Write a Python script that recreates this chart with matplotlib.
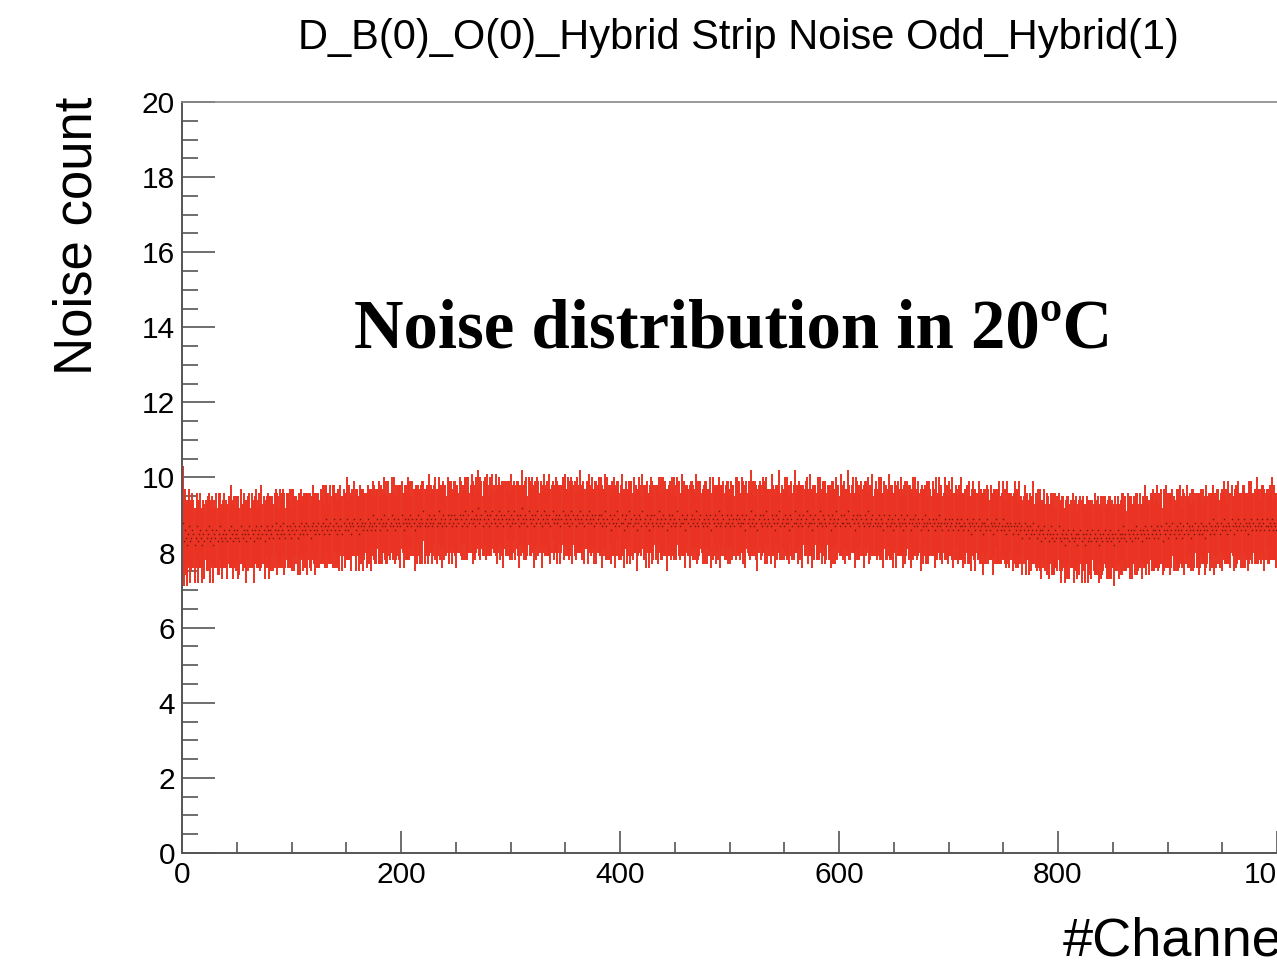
import numpy as np
import matplotlib
matplotlib.use("Agg")
import matplotlib.pyplot as plt
from matplotlib.ticker import MultipleLocator

# ---------------- data (noise per strip, 8 CBC chips x 127 strips) ----------------
noise_cbc0 = [8.8, 8.3, 8.6, 8.4, 8.2, 8.5, 8.7, 8.3, 8.4, 8.6,
              8.5, 8.2, 8.4, 8.7, 8.3, 8.5, 8.6, 8.4, 8.2, 8.5,
              8.3, 8.6, 8.4, 8.5, 8.7, 8.3, 8.4, 8.6, 8.2, 8.5,
              8.4, 8.6, 8.3, 8.5, 8.7, 8.4, 8.3, 8.5, 8.6, 8.4,
              8.5, 8.3, 8.6, 8.4, 8.7, 8.5, 8.3, 8.6, 8.4, 8.5,
              8.6, 8.4, 8.3, 8.7, 8.5, 8.4, 8.6, 8.5, 8.3, 8.6,
              8.5, 8.7, 8.4, 8.6, 8.5, 8.3, 8.6, 8.7, 8.4, 8.5,
              8.6, 8.4, 8.7, 8.5, 8.6, 8.3, 8.5, 8.7, 8.6, 8.4,
              8.6, 8.5, 8.7, 8.4, 8.6, 8.8, 8.5, 8.6, 8.4, 8.7,
              8.5, 8.6, 8.8, 8.5, 8.4, 8.7, 8.6, 8.5, 8.7, 8.4,
              8.6, 8.8, 8.5, 8.7, 8.6, 8.4, 8.7, 8.5, 8.8, 8.6,
              8.5, 8.7, 8.6, 8.8, 8.5, 8.7, 8.6, 8.4, 8.7, 8.8,
              8.6, 8.5, 8.7, 8.6, 8.8, 8.5, 8.7]
err_cbc0 = [1.5, 1.2, 1.1, 1.0, 1.1, 0.9, 1.0, 1.1, 0.9, 1.0,
            0.9, 1.0, 0.8, 0.9, 1.1, 0.9, 1.0, 0.8, 1.0, 0.9,
            1.0, 0.8, 0.9, 1.0, 0.9, 1.1, 0.8, 0.9, 1.0, 0.9,
            0.8, 1.0, 0.9, 1.1, 0.9, 0.8, 1.0, 0.9, 1.0, 0.8,
            0.9, 1.0, 0.9, 0.8, 1.1, 0.9, 1.0, 0.9, 0.8, 1.0,
            0.9, 1.1, 0.9, 1.0, 0.8, 0.9, 1.0, 0.9, 1.1, 0.8,
            1.0, 0.9, 0.8, 1.0, 0.9, 1.1, 0.9, 1.0, 0.8, 0.9,
            1.0, 0.9, 1.1, 0.8, 0.9, 1.0, 0.9, 0.8, 1.0, 1.1,
            0.9, 1.0, 0.8, 0.9, 1.0, 0.9, 1.1, 0.9, 0.8, 1.0,
            0.9, 1.0, 0.9, 1.1, 0.8, 0.9, 1.0, 0.9, 1.0, 0.8,
            1.1, 0.9, 1.0, 0.8, 0.9, 1.0, 0.9, 1.1, 0.9, 0.8,
            1.0, 0.9, 1.0, 0.8, 1.1, 0.9, 1.0, 0.9, 0.8, 1.0,
            0.9, 1.1, 0.9, 1.0, 0.8, 0.9, 1.0]

noise_cbc1 = [8.6, 8.8, 8.5, 8.7, 8.9, 8.6, 8.7, 8.5, 8.8, 8.6,
              8.7, 8.9, 8.6, 8.8, 8.5, 8.7, 8.6, 8.9, 8.7, 8.5,
              8.8, 8.6, 8.7, 8.9, 8.6, 8.8, 8.7, 8.5, 8.8, 8.7,
              8.9, 8.6, 8.8, 8.7, 8.5, 8.9, 8.7, 8.8, 8.6, 8.7,
              8.8, 8.6, 8.9, 8.7, 8.8, 8.6, 8.7, 9.0, 8.8, 8.6,
              8.7, 8.9, 8.8, 8.6, 8.9, 8.7, 8.8, 9.0, 8.7, 8.8,
              8.6, 8.9, 8.7, 8.8, 9.0, 8.7, 8.9, 8.6, 8.8, 8.7,
              8.9, 8.8, 8.7, 9.0, 8.8, 8.6, 8.9, 8.8, 8.7, 8.9,
              8.8, 9.0, 8.7, 8.9, 8.8, 8.6, 8.9, 8.7, 9.0, 8.8,
              8.7, 8.9, 8.8, 9.1, 8.7, 8.8, 8.9, 8.7, 9.0, 8.8,
              8.9, 8.7, 8.8, 9.0, 8.9, 8.7, 8.8, 9.1, 8.8, 8.9,
              8.7, 9.0, 8.8, 8.9, 8.7, 9.0, 8.8, 8.9, 9.0, 8.7,
              8.8, 9.0, 8.9, 8.7, 8.9, 8.8, 9.0]
err_cbc1 = [0.9, 1.0, 0.8, 1.1, 0.9, 1.0, 0.9, 0.8, 1.0, 0.9,
            1.1, 0.9, 1.0, 0.8, 0.9, 1.0, 1.1, 0.9, 0.8, 1.0,
            0.9, 1.0, 0.9, 1.1, 0.8, 1.0, 0.9, 1.0, 0.9, 0.8,
            1.0, 1.1, 0.9, 0.8, 1.0, 0.9, 1.0, 0.9, 1.1, 0.9,
            0.8, 1.0, 0.9, 1.0, 0.9, 1.1, 0.8, 0.9, 1.0, 0.9,
            1.0, 0.8, 1.1, 0.9, 0.9, 1.0, 0.8, 1.0, 0.9, 1.1,
            0.9, 1.0, 0.9, 0.8, 1.0, 0.9, 1.1, 0.9, 1.0, 0.8,
            0.9, 1.0, 1.1, 0.9, 0.8, 1.0, 0.9, 1.0, 0.9, 1.1,
            1.0, 0.9, 0.8, 1.0, 0.9, 1.1, 0.9, 1.0, 0.8, 0.9,
            1.0, 0.9, 1.1, 0.8, 1.0, 0.9, 0.9, 1.0, 1.1, 0.8,
            0.9, 1.0, 0.9, 0.8, 1.1, 1.0, 0.9, 0.9, 1.0, 0.8,
            1.1, 0.9, 1.0, 0.9, 0.8, 1.0, 1.1, 0.9, 0.9, 1.0,
            0.8, 0.9, 1.0, 1.1, 0.9, 0.8, 1.0]

noise_cbc2 = [8.9, 8.7, 9.0, 8.8, 9.1, 8.9, 8.7, 9.0, 8.8, 8.9,
              9.1, 8.8, 8.9, 8.7, 9.0, 8.9, 9.2, 8.8, 8.9, 9.0,
              8.7, 8.9, 9.1, 8.8, 9.0, 8.9, 8.7, 9.0, 8.8, 9.1,
              8.9, 8.8, 9.0, 8.7, 8.9, 9.1, 8.8, 9.0, 8.9, 8.7,
              9.0, 8.9, 8.8, 9.1, 8.9, 8.7, 9.0, 8.8, 8.9, 9.1,
              8.8, 9.0, 8.9, 8.7, 9.0, 8.8, 9.2, 8.9, 8.8, 9.0,
              8.9, 8.7, 9.1, 8.9, 8.8, 9.0, 8.9, 8.7, 9.0, 8.8,
              9.1, 8.9, 8.8, 9.0, 8.7, 8.9, 9.1, 8.8, 9.0, 8.9,
              8.8, 9.0, 8.7, 8.9, 9.1, 8.8, 8.9, 9.0, 8.8, 8.9,
              9.0, 8.7, 8.9, 9.1, 8.8, 9.0, 8.9, 8.8, 9.0, 8.7,
              8.9, 9.1, 8.8, 9.0, 8.9, 8.7, 9.0, 8.9, 8.8, 9.1,
              8.9, 8.8, 9.0, 8.7, 8.9, 9.0, 8.8, 9.1, 8.9, 8.8,
              9.0, 8.9, 8.7, 9.0, 8.8, 8.9, 9.0]
err_cbc2 = [1.0, 0.9, 0.8, 1.0, 0.9, 1.1, 0.9, 1.0, 0.8, 0.9,
            1.0, 1.1, 0.9, 0.9, 1.0, 0.8, 1.0, 0.9, 1.1, 0.9,
            0.8, 1.0, 0.9, 1.0, 1.1, 0.9, 0.8, 1.0, 0.9, 1.0,
            0.9, 0.8, 1.1, 1.0, 0.9, 0.9, 1.0, 0.8, 1.0, 1.1,
            0.9, 1.0, 0.9, 0.8, 1.0, 0.9, 1.1, 1.0, 0.9, 0.8,
            1.0, 0.9, 1.0, 1.1, 0.8, 0.9, 1.0, 0.9, 1.0, 0.9,
            1.1, 0.8, 0.9, 1.0, 0.9, 1.0, 0.8, 1.1, 0.9, 1.0,
            0.9, 1.0, 0.8, 0.9, 1.1, 0.9, 1.0, 0.9, 0.8, 1.0,
            0.9, 1.1, 1.0, 0.9, 0.8, 1.0, 0.9, 1.0, 1.1, 0.9,
            0.8, 1.0, 0.9, 0.9, 1.0, 1.1, 0.8, 0.9, 1.0, 0.9,
            1.0, 0.9, 1.1, 0.8, 1.0, 0.9, 1.0, 0.9, 0.8, 1.1,
            0.9, 1.0, 0.9, 1.0, 0.8, 0.9, 1.1, 1.0, 0.9, 0.9,
            1.0, 0.8, 1.0, 0.9, 1.1, 0.9, 1.0]

noise_cbc3 = [8.8, 9.0, 8.7, 8.9, 8.8, 9.1, 8.7, 8.9, 8.8, 9.0,
              8.6, 8.9, 8.8, 9.0, 8.7, 8.8, 9.1, 8.9, 8.7, 8.8,
              9.0, 8.8, 8.6, 8.9, 9.0, 8.7, 8.8, 9.1, 8.8, 8.9,
              8.7, 9.0, 8.8, 8.9, 8.6, 8.8, 9.0, 8.9, 8.7, 9.1,
              8.8, 8.9, 8.7, 9.0, 8.8, 8.6, 8.9, 9.0, 8.8, 8.7,
              9.0, 8.8, 8.9, 8.7, 9.1, 8.8, 8.9, 8.7, 9.0, 8.8,
              8.9, 8.6, 8.8, 9.0, 8.9, 8.7, 9.0, 8.8, 8.9, 8.7,
              8.8, 9.1, 8.9, 8.7, 8.8, 9.0, 8.8, 8.9, 8.6, 8.9,
              9.0, 8.8, 8.7, 8.9, 9.0, 8.8, 8.9, 8.7, 9.1, 8.8,
              8.7, 8.9, 9.0, 8.8, 8.7, 8.9, 8.8, 9.0, 8.7, 8.9,
              8.8, 9.0, 8.6, 8.9, 8.8, 9.0, 8.7, 8.9, 8.8, 9.1,
              8.7, 8.8, 9.0, 8.9, 8.7, 8.8, 9.0, 8.8, 8.9, 8.7,
              9.0, 8.8, 8.9, 8.7, 8.9, 9.0, 8.8]
err_cbc3 = [0.9, 1.0, 1.1, 0.8, 0.9, 1.0, 0.9, 1.1, 1.0, 0.8,
            0.9, 1.0, 0.9, 1.0, 1.1, 0.9, 0.8, 1.0, 0.9, 1.0,
            1.1, 0.9, 1.0, 0.8, 0.9, 1.0, 0.9, 0.8, 1.1, 1.0,
            0.9, 1.0, 0.8, 0.9, 1.1, 0.9, 1.0, 0.9, 0.8, 1.0,
            1.0, 0.9, 1.1, 0.9, 0.8, 1.0, 0.9, 1.0, 1.1, 0.9,
            0.8, 1.0, 0.9, 1.0, 0.9, 0.8, 1.1, 0.9, 1.0, 0.9,
            1.0, 1.1, 0.9, 0.8, 1.0, 0.9, 1.0, 0.9, 1.1, 0.8,
            1.0, 0.9, 1.0, 0.9, 0.8, 1.1, 0.9, 1.0, 1.0, 0.9,
            0.8, 0.9, 1.1, 1.0, 0.9, 1.0, 0.8, 0.9, 1.0, 1.1,
            0.9, 1.0, 0.9, 0.8, 1.0, 0.9, 1.1, 0.9, 1.0, 0.8,
            0.9, 1.0, 1.0, 1.1, 0.9, 0.8, 1.0, 0.9, 1.0, 0.9,
            1.1, 0.9, 0.8, 1.0, 0.9, 1.0, 0.9, 1.1, 0.8, 1.0,
            0.9, 1.0, 0.9, 0.8, 1.1, 1.0, 0.9]

noise_cbc4 = [8.9, 8.7, 8.8, 9.0, 8.8, 8.9, 8.6, 9.0, 8.8, 8.9,
              8.7, 9.1, 8.8, 8.9, 8.7, 9.0, 8.8, 8.6, 8.9, 9.0,
              8.8, 8.7, 9.0, 8.9, 8.8, 9.1, 8.7, 8.9, 8.8, 8.7,
              9.0, 8.9, 8.8, 8.6, 9.0, 8.8, 8.9, 9.1, 8.7, 8.8,
              8.9, 8.7, 9.0, 8.8, 8.9, 8.8, 8.6, 9.0, 8.9, 8.7,
              8.8, 9.1, 8.8, 8.9, 8.7, 9.0, 8.8, 8.9, 8.7, 9.0,
              8.8, 8.9, 9.1, 8.7, 8.8, 9.0, 8.8, 8.6, 8.9, 8.8,
              9.0, 8.7, 8.9, 8.8, 9.1, 8.8, 8.7, 9.0, 8.9, 8.8,
              8.7, 9.0, 8.8, 8.9, 8.6, 9.0, 8.8, 8.9, 8.7, 9.1,
              8.8, 8.9, 8.7, 9.0, 8.8, 8.8, 9.0, 8.7, 8.9, 8.8,
              9.1, 8.8, 8.7, 8.9, 9.0, 8.8, 8.6, 8.9, 9.0, 8.8,
              8.7, 9.0, 8.9, 8.8, 8.7, 9.0, 8.9, 8.8, 9.1, 8.7,
              8.8, 8.9, 9.0, 8.7, 8.8, 8.9, 8.7]
err_cbc4 = [1.0, 0.9, 0.8, 1.0, 1.1, 0.9, 1.0, 0.9, 0.8, 1.0,
            0.9, 1.1, 0.9, 1.0, 0.8, 0.9, 1.0, 1.1, 0.9, 0.9,
            1.0, 0.8, 1.0, 0.9, 1.1, 0.9, 1.0, 0.8, 0.9, 1.0,
            1.1, 0.9, 0.9, 1.0, 0.8, 1.0, 0.9, 1.1, 0.9, 1.0,
            0.8, 0.9, 1.0, 0.9, 1.1, 1.0, 0.9, 0.8, 1.0, 0.9,
            1.0, 1.1, 0.8, 0.9, 1.0, 0.9, 1.0, 0.9, 1.1, 0.8,
            0.9, 1.0, 0.9, 1.0, 0.8, 1.1, 0.9, 1.0, 0.9, 1.0,
            0.8, 0.9, 1.1, 1.0, 0.9, 0.8, 1.0, 0.9, 1.0, 1.1,
            0.9, 0.8, 1.0, 0.9, 1.0, 0.9, 1.1, 0.8, 1.0, 0.9,
            1.0, 0.9, 0.8, 1.1, 0.9, 1.0, 0.9, 1.0, 0.8, 0.9,
            1.1, 1.0, 0.9, 0.9, 1.0, 0.8, 1.0, 1.1, 0.9, 1.0,
            0.9, 0.8, 1.0, 0.9, 1.1, 0.9, 1.0, 0.8, 0.9, 1.0,
            1.0, 0.9, 1.1, 0.8, 0.9, 1.0, 0.9]

noise_cbc5 = [8.8, 9.0, 8.7, 8.9, 8.8, 8.6, 9.0, 8.8, 8.7, 8.9,
              9.0, 8.7, 8.8, 8.9, 8.6, 8.8, 9.0, 8.7, 8.9, 8.8,
              8.7, 9.0, 8.8, 8.6, 8.9, 8.8, 8.7, 9.0, 8.8, 8.9,
              8.6, 8.8, 8.9, 8.7, 9.0, 8.8, 8.7, 8.9, 8.8, 8.6,
              8.9, 8.7, 8.8, 9.0, 8.7, 8.8, 8.6, 8.9, 8.8, 8.7,
              8.9, 8.8, 8.6, 8.9, 8.7, 8.8, 9.0, 8.7, 8.8, 8.6,
              8.8, 8.9, 8.7, 8.8, 8.6, 8.9, 8.7, 8.8, 8.9, 8.6,
              8.7, 8.8, 8.9, 8.6, 8.8, 8.7, 8.9, 8.7, 8.6, 8.8,
              8.7, 8.9, 8.6, 8.8, 8.7, 8.5, 8.8, 8.9, 8.7, 8.6,
              8.8, 8.7, 8.9, 8.6, 8.7, 8.8, 8.5, 8.8, 8.7, 8.6,
              8.9, 8.7, 8.6, 8.8, 8.7, 8.5, 8.8, 8.7, 8.9, 8.6,
              8.7, 8.8, 8.6, 8.7, 8.9, 8.6, 8.7, 8.5, 8.8, 8.7,
              8.6, 8.8, 8.7, 8.5, 8.7, 8.8, 8.6]
err_cbc5 = [0.9, 1.0, 0.9, 1.1, 0.8, 1.0, 0.9, 1.0, 0.9, 0.8,
            1.1, 0.9, 1.0, 0.9, 1.0, 0.8, 0.9, 1.1, 1.0, 0.9,
            0.8, 1.0, 0.9, 1.0, 0.9, 1.1, 0.8, 0.9, 1.0, 0.9,
            1.0, 0.9, 1.1, 0.8, 1.0, 0.9, 0.9, 1.0, 0.8, 1.1,
            0.9, 1.0, 0.9, 0.8, 1.0, 1.1, 0.9, 1.0, 0.9, 0.8,
            1.0, 0.9, 1.0, 1.1, 0.9, 0.8, 1.0, 0.9, 1.0, 0.9,
            0.8, 1.1, 0.9, 1.0, 0.9, 1.0, 0.8, 0.9, 1.1, 1.0,
            0.9, 1.0, 0.8, 0.9, 1.0, 0.9, 1.1, 0.9, 1.0, 0.8,
            1.0, 0.9, 0.9, 1.1, 0.8, 1.0, 0.9, 1.0, 0.9, 1.1,
            0.8, 0.9, 1.0, 0.9, 1.0, 0.8, 1.1, 0.9, 1.0, 0.9,
            0.9, 1.0, 0.8, 1.0, 0.9, 1.1, 0.9, 1.0, 0.8, 0.9,
            1.0, 1.1, 0.9, 0.9, 1.0, 0.8, 1.0, 0.9, 1.1, 0.9,
            1.0, 0.8, 0.9, 1.0, 0.9, 1.1, 1.0]

noise_cbc6 = [8.7, 8.5, 8.8, 8.6, 8.7, 8.4, 8.6, 8.8, 8.5, 8.7,
              8.6, 8.4, 8.7, 8.5, 8.6, 8.8, 8.5, 8.6, 8.4, 8.7,
              8.5, 8.6, 8.3, 8.6, 8.5, 8.7, 8.4, 8.5, 8.6, 8.3,
              8.5, 8.7, 8.4, 8.5, 8.3, 8.6, 8.4, 8.5, 8.7, 8.4,
              8.3, 8.5, 8.6, 8.4, 8.2, 8.5, 8.4, 8.6, 8.3, 8.5,
              8.4, 8.6, 8.3, 8.4, 8.5, 8.2, 8.5, 8.4, 8.6, 8.3,
              8.5, 8.4, 8.2, 8.5, 8.6, 8.3, 8.4, 8.5, 8.3, 8.6,
              8.4, 8.5, 8.3, 8.4, 8.6, 8.2, 8.5, 8.4, 8.3, 8.5,
              8.6, 8.4, 8.3, 8.5, 8.4, 8.6, 8.3, 8.5, 8.4, 8.2,
              8.5, 8.4, 8.6, 8.3, 8.5, 8.4, 8.5, 8.7, 8.4, 8.5,
              8.3, 8.6, 8.5, 8.4, 8.6, 8.3, 8.5, 8.6, 8.4, 8.7,
              8.5, 8.4, 8.6, 8.5, 8.3, 8.6, 8.5, 8.7, 8.4, 8.6,
              8.5, 8.4, 8.7, 8.5, 8.6, 8.4, 8.6]
err_cbc6 = [1.0, 0.9, 1.1, 0.9, 0.8, 1.0, 0.9, 1.0, 1.1, 0.9,
            0.8, 1.0, 0.9, 1.0, 0.9, 1.1, 0.8, 1.0, 0.9, 1.0,
            0.9, 1.1, 1.0, 0.8, 0.9, 1.0, 0.9, 1.1, 0.9, 1.0,
            0.8, 0.9, 1.0, 1.1, 0.9, 1.0, 0.8, 1.0, 0.9, 0.9,
            1.1, 1.0, 0.9, 0.8, 1.0, 0.9, 1.1, 0.9, 1.0, 0.9,
            0.8, 1.0, 1.1, 0.9, 1.0, 0.9, 0.8, 1.0, 0.9, 1.1,
            1.0, 0.9, 1.0, 0.8, 0.9, 1.1, 1.0, 0.9, 1.0, 0.8,
            0.9, 1.1, 0.9, 1.0, 0.9, 1.0, 0.8, 1.1, 0.9, 1.0,
            0.9, 0.8, 1.0, 0.9, 1.1, 0.9, 1.0, 0.9, 0.8, 1.1,
            1.0, 0.9, 0.9, 1.0, 0.8, 1.0, 1.1, 0.9, 0.9, 1.0,
            0.8, 1.0, 0.9, 1.1, 0.9, 1.0, 0.8, 0.9, 1.0, 0.9,
            1.1, 0.9, 1.0, 0.8, 1.0, 0.9, 0.9, 1.1, 1.0, 0.9,
            0.8, 1.0, 0.9, 1.0, 1.1, 0.9, 1.0]

noise_cbc7 = [8.5, 8.7, 8.4, 8.6, 8.5, 8.7, 8.3, 8.6, 8.5, 8.8,
              8.6, 8.4, 8.7, 8.5, 8.6, 8.8, 8.5, 8.6, 8.4, 8.7,
              8.6, 8.5, 8.8, 8.6, 8.4, 8.7, 8.5, 8.6, 8.8, 8.5,
              8.7, 8.6, 8.4, 8.7, 8.6, 8.5, 8.8, 8.6, 8.7, 8.5,
              8.6, 8.8, 8.5, 8.7, 8.6, 8.4, 8.7, 8.6, 8.8, 8.5,
              8.7, 8.6, 8.9, 8.5, 8.7, 8.6, 8.8, 8.7, 8.5, 8.8,
              8.6, 8.7, 8.9, 8.6, 8.7, 8.5, 8.8, 8.7, 8.6, 8.9,
              8.7, 8.5, 8.8, 8.7, 8.6, 8.9, 8.7, 8.8, 8.6, 8.7,
              8.9, 8.6, 8.8, 8.7, 8.5, 8.8, 8.7, 8.9, 8.6, 8.8,
              8.7, 8.6, 8.9, 8.7, 8.8, 8.6, 8.7, 8.9, 8.8, 8.6,
              8.7, 8.9, 8.7, 8.6, 8.8, 8.7, 8.9, 8.6, 8.8, 8.7,
              8.6, 8.8, 8.9, 8.7, 8.6, 8.8, 8.7, 8.9, 8.7, 8.6,
              8.8, 8.7, 8.9, 8.6, 8.8, 8.7, 8.8]
err_cbc7 = [0.9, 1.1, 0.9, 1.0, 0.8, 1.0, 0.9, 1.1, 0.9, 1.0,
            1.0, 0.8, 0.9, 1.1, 1.0, 0.9, 1.0, 0.8, 0.9, 1.0,
            1.1, 0.9, 1.0, 0.9, 0.8, 1.0, 1.1, 0.9, 1.0, 0.9,
            0.8, 1.0, 0.9, 1.0, 1.1, 0.9, 0.8, 1.0, 0.9, 1.1,
            1.0, 0.9, 0.8, 1.0, 0.9, 1.0, 1.1, 0.9, 0.8, 1.0,
            0.9, 1.0, 0.9, 1.1, 0.8, 1.0, 0.9, 1.0, 0.9, 0.8,
            1.1, 0.9, 1.0, 0.9, 1.0, 0.8, 1.1, 0.9, 1.0, 0.9,
            0.8, 1.0, 0.9, 1.1, 0.9, 1.0, 0.9, 0.8, 1.0, 1.1,
            0.9, 1.0, 0.8, 0.9, 1.0, 1.1, 0.9, 1.0, 0.9, 0.8,
            1.0, 0.9, 1.1, 1.0, 0.9, 0.8, 1.0, 0.9, 1.0, 1.1,
            0.9, 0.8, 1.0, 0.9, 1.0, 0.9, 1.1, 0.8, 1.0, 0.9,
            1.0, 1.1, 0.9, 0.8, 1.0, 0.9, 1.0, 0.9, 1.1, 0.8,
            0.9, 1.0, 1.0, 0.9, 1.1, 0.8, 0.9]

title_text = "D_B(0)_O(0)_Hybrid Strip Noise Odd_Hybrid(1)"
annot_text = "Noise distribution in 20ºC"
x_label = "#Channel"
y_label = "Noise count"
x_ticks = [0, 200, 400, 600, 800, 1000]
y_ticks = [0, 2, 4, 6, 8, 10, 12, 14, 16, 18, 20]
n_channels = 1016

# ---------------- assemble ----------------
noise_blocks = [noise_cbc0, noise_cbc1, noise_cbc2, noise_cbc3,
                noise_cbc4, noise_cbc5, noise_cbc6, noise_cbc7]
err_blocks = [err_cbc0, err_cbc1, err_cbc2, err_cbc3,
              err_cbc4, err_cbc5, err_cbc6, err_cbc7]
noise = []
err = []
for nb, eb in zip(noise_blocks, err_blocks):
    m = min(len(nb), len(eb))
    noise.extend(nb[:m])
    err.extend(eb[:m])
noise = np.array(noise)
err = np.array(err)
chan = np.arange(len(noise)) + 0.5

# ---------------- figure ----------------
W, H = 1277, 965
fig = plt.figure(figsize=(W / 100, H / 100), dpi=100)
fig.patch.set_facecolor("white")

ax_left = 182 / W
ax_bottom = (H - 853) / H
ax_height = (853 - 102) / H
px_per_unit = (401 - 182) / 200.0
ax_width = px_per_unit * n_channels / W
ax = fig.add_axes([ax_left, ax_bottom, ax_width, ax_height])

red = "#ea3323"
ax.errorbar(chan, noise, yerr=err, xerr=0.5, fmt="none",
            ecolor=red, elinewidth=1.4, capsize=0, zorder=2)
ax.plot(chan, noise, ls="none", marker="s", ms=1.0, mew=0,
        color="#4a0c06", alpha=0.75, zorder=3)

ax.set_xlim(0, n_channels)
ax.set_ylim(0, 20)
ax.set_xticks(x_ticks)
ax.set_yticks(y_ticks)
ax.xaxis.set_minor_locator(MultipleLocator(50))
ax.yaxis.set_minor_locator(MultipleLocator(0.5))

sans = ["Liberation Sans", "DejaVu Sans"]
tick_col = "#555555"
ax.tick_params(axis="x", which="major", direction="in", length=16, width=1.2,
               color=tick_col, labelsize=21.5, pad=6, top=False)
ax.tick_params(axis="x", which="minor", direction="in", length=8, width=1.2,
               color=tick_col, top=False)
ax.tick_params(axis="y", which="major", direction="in", length=24, width=1.2,
               color=tick_col, labelsize=21.5, pad=5, right=False)
ax.tick_params(axis="y", which="minor", direction="in", length=11.5, width=1.2,
               color=tick_col, right=False)
for lab in ax.get_xticklabels() + ax.get_yticklabels():
    lab.set_family(sans)

for side in ["left", "bottom"]:
    ax.spines[side].set_color(tick_col)
    ax.spines[side].set_linewidth(1.4)
ax.spines["top"].set_color("#888888")
ax.spines["top"].set_linewidth(1.2)
ax.spines["right"].set_color("#888888")

# title
fig.text(738.5 / W, 1 - 38 / H, title_text, ha="center", va="center",
         fontsize=30, family=sans)
# y label (top aligned with axis top)
fig.text(78 / W, 1 - 97 / H, y_label, rotation=90, ha="center", va="top",
         fontsize=38, family=sans)
# x label (right aligned with axis end)
fig.text(ax_left + ax_width, 1 - 955 / H, x_label, ha="right", va="baseline",
         fontsize=39, family=sans)
# annotation
fig.text(733 / W, 1 - 347 / H, annot_text, ha="center", va="baseline",
         fontsize=49.5, fontweight="bold",
         family=["Liberation Serif", "DejaVu Serif"])

fig.savefig("out.png", dpi=100)
